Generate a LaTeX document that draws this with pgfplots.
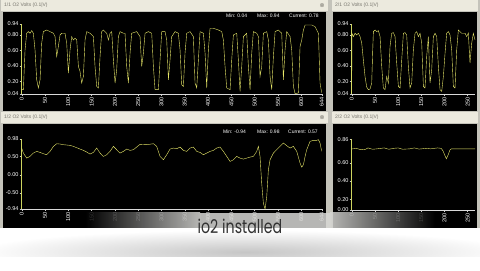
\documentclass[border=0pt]{standalone}
\usepackage{fontspec}
\setmainfont{Liberation Sans}
\newfontfamily\capfont{Poppins}
\newfontfamily\symfont{DejaVu Sans}
\usepackage{pgfplots}
\pgfplotsset{compat=1.18}

\definecolor{chrome}{RGB}{196,195,186}
\definecolor{titlebar}{RGB}{236,234,222}
\definecolor{titletext}{RGB}{120,118,110}
\definecolor{trace}{RGB}{232,232,105}
\definecolor{axisy}{RGB}{205,212,95}
\definecolor{glowc}{RGB}{215,215,212}

\pgfplotsset{osc/.style={
  scale only axis,
  axis x line*=bottom, axis y line*=left,
  x axis line style={draw=white!85!black, line width=0.6pt},
  y axis line style={draw=axisy, line width=0.7pt},
  tick align=outside, major tick length=2bp,
  xtick style={draw=white!80!black, line width=0.4pt},
  ytick style={draw=white!80!black, line width=0.4pt},
  tick label style={font=\fontsize{5.6}{6}\selectfont, text=white, inner sep=1pt},
  xticklabel style={rotate=90, anchor=east},
  cycle list={{draw=trace, line width=0.75pt, mark=none}},
}}

\begin{document}
\begin{tikzpicture}
\begin{scope}[x=1bp, y=1bp]
\useasboundingbox (0,0) rectangle (480,270);
\fill[chrome] (0,0) rectangle (480,270);
% title bars
\fill[titlebar] (1,259) rectangle (328,270);
\fill[titlebar] (332,259) rectangle (478,270);
\fill[titlebar] (1,147) rectangle (328,158);
\fill[titlebar] (332,147) rectangle (478,158);
% black panels
\fill[black] (3,159) rectangle (326,258);
\fill[black] (333,159) rectangle (477,258);
\fill[black] (3,42) rectangle (326,146);
\fill[black] (333,42) rectangle (477,146);
% titles
\begin{scope}[every node/.style={font=\fontsize{5}{5}\selectfont, text=titletext, inner sep=0pt, anchor=west}]
\node at (4,264.5) {1/1 O2 Volts (0.1|V)};
\node at (335,264.5) {2/1 O2 Volts (0.1|V)};
\node at (4,152.5) {1/2 O2 Volts (0.1|V)};
\node at (335,152.5) {2/2 O2 Volts (0.1|V)};
\node[anchor=center, font=\symfont\fontsize{6}{6}\selectfont] at (322,264.5) {⊗};
\node[anchor=center, font=\symfont\fontsize{6}{6}\selectfont] at (322,152.5) {⊗};
\end{scope}
% min max current
\begin{scope}[every node/.style={font=\fontsize{5}{5}\selectfont, text=white, inner sep=0pt, anchor=west}]
\node at (226,254) {Min: 0.04};
\node at (257,254) {Max: 0.94};
\node at (289,254) {Current: 0.78};
\node at (223,138.3) {Min: -0.94};
\node at (257,138.3) {Max: 0.98};
\node at (288,138.3) {Current: 0.57};
\end{scope}
\end{scope}

% ---- top-left ----
\begin{axis}[osc, at={(21.7bp,176bp)}, anchor=south west, width=300bp, height=70bp,
  xmin=0, xmax=644, ymin=0.04, ymax=0.94,
  xtick={0,50,100,150,200,250,300,350,400,450,500,550,600,644},
  xticklabels={0,50,100,150,200,250,300,350,400,450,500,550,600,644},
  ytick={0.04,0.2,0.4,0.6,0.8,0.94},
  yticklabels={0.04,0.20,0.40,0.60,0.80,0.94}]
\addplot coordinates {(0,0.096)(3.6,0.096)(7.2,0.607)(10.7,0.821)(14.3,0.842)(17.9,0.821)(21.5,0.855)(25.0,0.821)(28.6,0.607)(32.2,0.223)(35.8,0.117)(39.4,0.223)(42.9,0.693)(46.5,0.842)(53.7,0.863)(60.8,0.842)(68.0,0.821)(71.6,0.778)(75.1,0.522)(78.7,0.650)(82.3,0.799)(85.9,0.821)(93.0,0.821)(96.6,0.693)(100.2,0.309)(103.8,0.607)(107.3,0.778)(110.9,0.735)(114.5,0.757)(118.1,0.735)(121.7,0.394)(125.2,0.330)(128.8,0.181)(132.4,0.266)(136.0,0.735)(139.5,0.842)(146.7,0.821)(153.9,0.778)(157.4,0.394)(161.0,0.138)(164.6,0.117)(168.2,0.522)(171.7,0.842)(175.3,0.863)(182.5,0.821)(186.1,0.735)(189.6,0.821)(193.2,0.842)(196.8,0.479)(200.4,0.181)(203.9,0.351)(207.5,0.778)(211.1,0.842)(218.3,0.821)(221.8,0.821)(225.4,0.394)(229.0,0.181)(232.6,0.565)(236.1,0.821)(246.9,0.842)(254.0,0.778)(257.6,0.394)(261.2,0.565)(264.8,0.821)(271.9,0.842)(279.1,0.821)(282.7,0.394)(286.2,0.096)(293.4,0.096)(297.0,0.479)(300.6,0.842)(307.7,0.842)(311.3,0.735)(314.9,0.223)(318.4,0.479)(322.0,0.778)(329.2,0.842)(336.3,0.821)(339.9,0.607)(343.5,0.159)(347.1,0.138)(350.6,0.565)(354.2,0.821)(361.4,0.842)(368.5,0.778)(372.1,0.181)(375.7,0.117)(379.3,0.479)(382.8,0.842)(390.0,0.821)(393.6,0.565)(397.2,0.117)(400.7,0.607)(404.3,0.885)(411.5,0.885)(422.2,0.863)(429.4,0.842)(432.9,0.735)(436.5,0.394)(440.1,0.117)(447.3,0.096)(450.8,0.479)(454.4,0.799)(461.6,0.821)(465.1,0.479)(468.7,0.074)(472.3,0.394)(475.9,0.778)(483.0,0.821)(486.6,0.394)(490.2,0.096)(493.8,0.565)(497.3,0.842)(504.5,0.821)(508.1,0.778)(511.6,0.266)(515.2,0.394)(518.8,0.821)(526.0,0.842)(529.5,0.735)(533.1,0.266)(536.7,0.096)(540.3,0.522)(543.9,0.842)(551.0,0.863)(558.2,0.821)(561.7,0.223)(565.3,0.607)(568.9,0.842)(576.1,0.778)(579.6,0.607)(583.2,0.138)(586.8,0.045)(593.9,0.053)(597.5,0.650)(601.1,0.735)(604.7,0.863)(608.3,0.927)(622.6,0.927)(629.7,0.906)(636.9,0.821)(640.4,0.181)(644,0.053)};
\end{axis}

% ---- top-right ----
\begin{axis}[osc, at={(351.7bp,176bp)}, anchor=south west, width=123.4bp, height=70bp,
  xmin=0, xmax=266, ymin=0.04, ymax=0.94,
  xtick={0,50,100,150,200,250},
  xticklabels={0,50,100,150,200,250},
  ytick={0.04,0.2,0.4,0.6,0.8,0.94},
  yticklabels={0.04,0.20,0.40,0.60,0.80,0.94}]
\addplot coordinates {(0,0.04)(0.5,0.821)(3.6,0.778)(7.2,0.821)(10.8,0.799)(14.4,0.821)(18.0,0.778)(21.6,0.693)(25.1,0.479)(28.7,0.266)(32.3,0.130)(35.9,0.096)(39.5,0.104)(43.1,0.181)(45.3,0.607)(46.7,0.842)(50.3,0.863)(53.9,0.842)(57.5,0.855)(61.1,0.778)(64.7,0.394)(68.2,0.117)(71.8,0.096)(75.4,0.266)(79.0,0.181)(82.6,0.650)(86.2,0.821)(89.8,0.829)(93.4,0.778)(97.0,0.437)(100.6,0.138)(104.2,0.117)(107.8,0.479)(111.4,0.821)(114.9,0.829)(118.5,0.799)(122.1,0.394)(125.7,0.117)(129.3,0.181)(132.9,0.607)(136.5,0.821)(140.1,0.842)(143.7,0.778)(147.3,0.821)(150.9,0.693)(154.5,0.138)(158.0,0.117)(161.6,0.522)(165.2,0.778)(168.8,0.181)(172.4,0.351)(176.0,0.778)(179.6,0.821)(183.2,0.778)(186.8,0.394)(190.4,0.096)(194.0,0.074)(197.6,0.266)(201.2,0.565)(204.7,0.821)(208.3,0.842)(211.9,0.799)(215.5,0.607)(219.1,0.138)(222.7,0.117)(226.3,0.607)(229.9,0.863)(233.5,0.842)(237.1,0.821)(244.3,0.821)(247.8,0.778)(251.4,0.821)(255.0,0.437)(258.6,0.693)(262.2,0.821)(265.8,0.735)};
\end{axis}

% ---- bottom-left ----
\begin{axis}[osc, at={(21.7bp,61bp)}, anchor=south west, width=300bp, height=70bp,
  xmin=0, xmax=644, ymin=-0.94, ymax=0.98,
  xtick={0,50,100,150,200,250,300,350,400,450,500,550,600,644},
  xticklabels={0,50,100,150,200,250,300,350,400,450,500,550,600,644},
  ytick={-0.94,-0.5,0,0.5,0.98},
  yticklabels={-0.94,-0.50,0.00,0.50,0.98}]
\addplot coordinates {(0,0.732)(3.6,0.594)(10.7,0.456)(17.9,0.502)(25.0,0.594)(32.2,0.640)(39.4,0.613)(46.5,0.576)(53.7,0.548)(60.8,0.640)(68.0,0.778)(75.1,0.851)(82.3,0.842)(89.4,0.824)(96.6,0.815)(103.8,0.805)(110.9,0.778)(118.1,0.741)(125.2,0.704)(132.4,0.668)(139.5,0.622)(146.7,0.567)(153.9,0.613)(161.0,0.732)(168.2,0.594)(175.3,0.502)(182.5,0.548)(189.6,0.640)(196.8,0.778)(203.9,0.686)(211.1,0.594)(218.3,0.640)(225.4,0.704)(232.6,0.668)(239.7,0.686)(246.9,0.760)(254.0,0.833)(268.4,0.824)(282.7,0.851)(289.8,0.778)(297.0,0.502)(304.1,0.410)(311.3,0.548)(318.4,0.704)(325.6,0.732)(332.8,0.714)(339.9,0.760)(347.1,0.668)(354.2,0.640)(361.4,0.732)(368.5,0.760)(375.7,0.640)(382.8,0.613)(390.0,0.548)(397.2,0.594)(404.3,0.640)(411.5,0.668)(418.6,0.732)(425.8,0.760)(432.9,0.640)(440.1,0.502)(447.3,0.364)(454.4,0.410)(461.6,0.502)(468.7,0.456)(475.9,0.429)(483.0,0.456)(490.2,0.484)(497.3,0.502)(504.5,0.640)(508.1,0.778)(511.6,0.502)(515.2,-0.233)(518.8,-0.784)(522.4,-0.940)(526.0,-0.600)(529.5,0.135)(533.1,0.410)(540.3,0.594)(547.4,0.686)(554.6,0.778)(561.7,0.870)(568.9,0.796)(576.1,0.732)(583.2,0.778)(590.4,0.640)(597.5,0.319)(601.1,0.208)(604.7,0.273)(608.3,0.502)(611.8,0.686)(619.0,0.916)(626.2,0.943)(633.3,0.943)(636.9,0.962)(640.4,0.870)(644,0.640)};
\end{axis}

% ---- bottom-right ----
\begin{axis}[osc, at={(351.7bp,60bp)}, anchor=south west, width=123.4bp, height=70.7bp,
  xmin=0, xmax=266, ymin=0.08, ymax=0.86,
  xtick={0,50,100,150,200,250},
  xticklabels={0,50,100,150,200,250},
  ytick={0.08,0.2,0.4,0.6,0.86},
  yticklabels={0.00,0.20,0.40,0.60,0.86}]
\addplot coordinates {(0,0.753)(10,0.76)(20,0.745)(30,0.75)(35,0.765)(45,0.75)(55,0.755)(70,0.765)(80,0.75)(90,0.76)(100,0.765)(110,0.75)(125,0.755)(135,0.765)(145,0.752)(160,0.76)(170,0.755)(185,0.765)(193,0.76)(197,0.73)(201,0.68)(204,0.645)(208,0.69)(212,0.745)(215,0.755)(230,0.755)(250,0.755)(266,0.755)};
\end{axis}

% ---- caption overlay ----
\begin{scope}[x=1bp, y=1bp]
% glow band over the lower tick labels
\shade[left color=black, right color=glowc, opacity=0.85] (85,42) rectangle (200,57.5);
\fill[glowc, opacity=0.85] (200,42) rectangle (330,57.5);
\shade[left color=glowc, right color=black, opacity=0.85] (330,42) rectangle (435,57.5);
% white lower strip with soft shadow
\fill[white] (0,0) rectangle (480,42);
\begin{scope}
\clip (0,0) rectangle (480,42);
\shade[inner color=gray!45, outer color=white] (245,18) ellipse [x radius=270, y radius=22];
\fill[white] (0,0) rectangle (480,13);
\end{scope}
\node[font=\capfont\fontsize{19}{19}\selectfont, text={rgb,255:red,50;green,50;blue,50}, xscale=0.75, inner sep=0pt, anchor=base] at (240,37) {io2 installed};
\end{scope}
\end{tikzpicture}
\end{document}
